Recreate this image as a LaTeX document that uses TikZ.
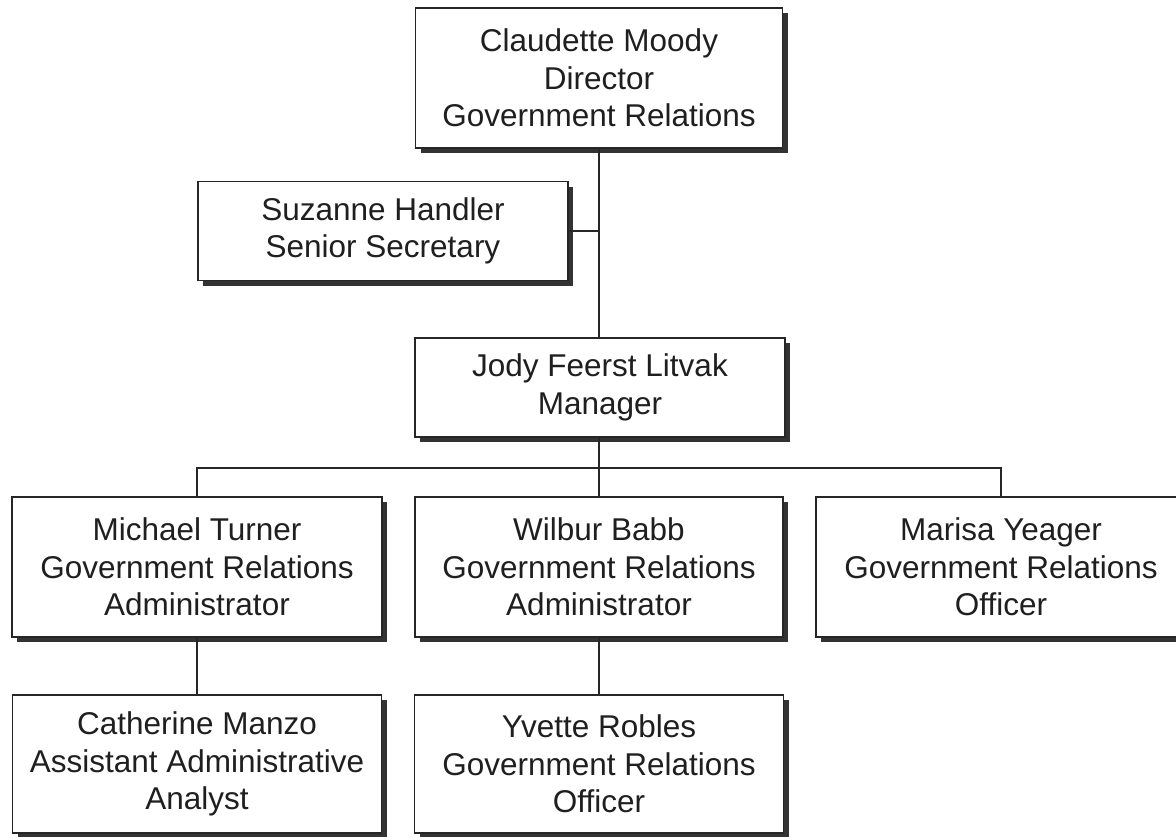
\documentclass[tikz,border=0pt]{standalone}
\usepackage{fontspec}
\setmainfont{Liberation Sans}
\usetikzlibrary{shadows}
\tikzset{
  person/.style={draw=black!85, line width=1.2pt, fill=white, inner sep=0pt,
    minimum width=370pt, align=center, text=black!88,
    font=\fontsize{31.5}{37.5}\selectfont,
    drop shadow={shadow xshift=5pt, shadow yshift=-5pt, fill=black!80, opacity=1}},
  tall/.style={minimum height=140pt},
  short/.style={minimum height=99pt},
  link/.style={draw=black!85, line width=1.6pt}
}
\begin{document}
\begin{tikzpicture}[x=1pt,y=-1pt]
\useasboundingbox (0,0) rectangle (1176,836);
\clip (0,0) rectangle (1176,836);
\fill[white] (0,0) rectangle (1176,836);
\node[person,tall,minimum width=367pt] (cm) at (599,78) {Claudette Moody\\Director\\Government Relations};
\node[person,short] (sh) at (383,231) {Suzanne Handler\\Senior Secretary};
\node[person,short] (jf) at (600,387.5) {Jody Feerst Litvak\\Manager};
\node[person,tall] (mt) at (197,567) {Michael Turner\\Government Relations\\Administrator};
\node[person,tall,minimum width=368pt] (wb) at (599,567) {Wilbur Babb\\Government Relations\\Administrator};
\node[person,tall] (my) at (1001,567) {Marisa Yeager\\Government Relations\\Officer};
\node[person,tall,minimum height=138pt,minimum width=369pt] (cat) at (197,764) {Catherine Manzo\\Assistant Administrative\\Analyst};
\node[person,tall,minimum height=138pt,minimum width=369pt] (yr) at (599,764) {Yvette Robles\\Government Relations\\Officer};
\coordinate (bus) at (599,468);
\begin{scope}[on background layer/.try]
\end{scope}
\draw[link] (cm.south) -- (cm.south |- jf.north);
\draw[link] (sh.east) -- (sh.east -| cm.south);
\draw[link] (jf.south -| bus) -- (bus);
\draw[link] (mt.north) |- (bus);
\draw[link] (bus) -| (my.north);
\draw[link] (bus) -- (wb.north);
\draw[link] (mt.south) -- (cat.north);
\draw[link] (wb.south) -- (yr.north);
\end{tikzpicture}
\end{document}
